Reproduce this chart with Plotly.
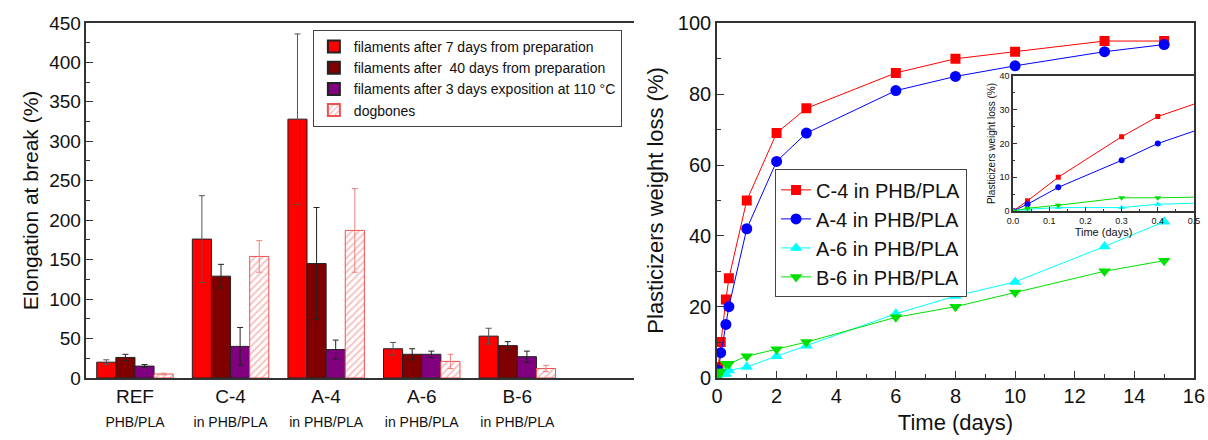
import plotly.graph_objects as go

# ---------------- Left panel data ----------------
groups_main = ["REF", "C-4", "A-4", "A-6", "B-6"]
groups_sub = ["PHB/PLA", "in PHB/PLA", "in PHB/PLA", "in PHB/PLA", "in PHB/PLA"]
group_pos = [1, 2, 3, 4, 5]

fil7 = [20, 176, 328, 37, 53]
fil7_err = [3, 55, 108, 8, 10]
fil40 = [26, 129, 145, 30, 41]
fil40_err = [4, 15, 71, 7, 5]
fil110 = [15, 40, 36, 30, 27]
fil110_err = [2, 24, 12, 4, 7]
dogbones = [5, 154, 187, 21, 12]
dogbones_err = [1, 20, 53, 9, 4]

bar_names = ["filaments after 7 days from preparation",
             "filaments after  40 days from preparation",
             "filaments after 3 days exposition at 110 °C",
             "dogbones"]

# ---------------- Right panel data ----------------
time_days = [0, 0.04, 0.125, 0.3, 0.4, 1, 2, 3, 6, 8, 10, 13, 15]
c4 = [0, 3, 10, 22, 28, 50, 69, 76, 86, 90, 92, 95, 95]
a4 = [0, 2, 7, 15, 20, 42, 61, 69, 81, 85, 88, 92, 94]
a6 = [0, 0.5, 1, 1, 2, 3, 6, 9, 18, 23, 27, 37, 44]
b6 = [0, 0.8, 1.7, 3.9, 3.9, 6, 8, 10, 17, 20, 24, 30, 33]
line_names = ["C-4 in PHB/PLA", "A-4 in PHB/PLA", "A-6 in PHB/PLA", "B-6 in PHB/PLA"]

FONT = "Liberation Sans, Arial, sans-serif"
AX = "#333333"

fig = go.Figure()

# ---- bars ----
bar_specs = [
    (fil7, fil7_err, dict(color="#FF0000", line=dict(color="#222", width=1)), "#555555"),
    (fil40, fil40_err, dict(color="#800000", line=dict(color="#222", width=1)), "#222222"),
    (fil110, fil110_err, dict(color="#800080", line=dict(color="#222", width=1)), "#222222"),
    (dogbones, dogbones_err,
     dict(color="white", line=dict(color="#F05050", width=1),
          pattern=dict(shape="/", fgcolor="#F08080", bgcolor="white", size=5, solidity=0.35)),
     "#F08080"),
]
for (vals, errs, mk, ecol), name in zip(bar_specs, bar_names):
    fig.add_trace(go.Bar(
        x=group_pos, y=vals, name=name, marker=mk,
        error_y=dict(type="data", array=errs, color=ecol, thickness=1, width=3),
        xaxis="x", yaxis="y", legend="legend",
    ))

# ---- lines (main + inset) ----
line_specs = [
    (c4, "#FF0000", "square", 10, 5),
    (a4, "#0000FF", "circle", 11, 6),
    (a6, "#00FFFF", "triangle-up", 11, 6),
    (b6, "#00E000", "triangle-down", 11, 6),
]
for (vals, col, sym, sz, szi), name in zip(line_specs, line_names):
    fig.add_trace(go.Scatter(
        x=time_days, y=vals, name=name, mode="lines+markers",
        line=dict(color=col, width=1), marker=dict(symbol=sym, size=sz, color=col),
        xaxis="x2", yaxis="y2", legend="legend2",
    ))
for (vals, col, sym, sz, szi), name in zip(line_specs, line_names):
    fig.add_trace(go.Scatter(
        x=time_days, y=vals, name=name, mode="lines+markers", showlegend=False,
        line=dict(color=col, width=1), marker=dict(symbol=sym, size=szi, color=col),
        xaxis="x3", yaxis="y3",
    ))

ticktext = [f"{m}<br><span style='font-size:14px'>{s}</span>" for m, s in zip(groups_main, groups_sub)]

common = dict(showline=True, linecolor=AX, linewidth=1.5, showgrid=False, zeroline=False,
              ticks="inside", tickcolor=AX, automargin=False)

fig.update_layout(
    width=1208, height=440,
    margin=dict(l=0, r=0, t=0, b=0, autoexpand=False),
    paper_bgcolor="white", plot_bgcolor="white",
    font=dict(family=FONT, color="#111"),
    barmode="group", bargap=0.2, bargroupgap=0,
    xaxis=dict(domain=[0.0716, 0.5248], range=[0.493, 6.22], tickvals=group_pos,
               ticktext=ticktext, ticks="", showline=True, linecolor=AX, linewidth=1.5,
               mirror=True, showgrid=False, zeroline=False, automargin=False,
               tickfont=dict(size=19, family=FONT), anchor="y"),
    yaxis=dict(domain=[0.141, 0.948], range=[0, 450], dtick=50, ticklen=7,
               minor=dict(dtick=25, ticks="inside", ticklen=4, tickcolor=AX),
               tickfont=dict(size=19, family=FONT),
               title=dict(text="Elongation at break (%)", font=dict(size=21, family=FONT), standoff=5),
               anchor="x", **common),
    xaxis2=dict(domain=[0.5935, 0.9884], range=[0, 16], dtick=2, ticklen=7, mirror=True,
                minor=dict(dtick=1, ticks="inside", ticklen=4, tickcolor=AX),
                tickfont=dict(size=20, family=FONT),
                title=dict(text="Time (days)", font=dict(size=22, family=FONT), standoff=8),
                anchor="y2", **common),
    yaxis2=dict(domain=[0.142, 0.947], range=[0, 100], dtick=20, ticklen=7, mirror=True,
                minor=dict(dtick=10, ticks="inside", ticklen=4, tickcolor=AX),
                tickfont=dict(size=20, family=FONT),
                title=dict(text="Plasticizers weight loss (%)", font=dict(size=22, family=FONT), standoff=8),
                anchor="x2", **common),
    xaxis3=dict(domain=[0.8386, 0.9884], range=[0, 0.5], dtick=0.1, tickformat=".1f", ticklen=4,
                mirror=True, minor=dict(dtick=0.05, ticks="inside", ticklen=2, tickcolor=AX),
                tickfont=dict(size=9, family=FONT),
                title=dict(text="Time (days)", font=dict(size=11, family=FONT), standoff=1),
                anchor="y3", **common),
    yaxis3=dict(domain=[0.5205, 0.8273], range=[0, 40], dtick=10, ticklen=4, mirror=True,
                minor=dict(dtick=5, ticks="inside", ticklen=2, tickcolor=AX),
                tickfont=dict(size=9, family=FONT),
                title=dict(text="Plasticizers weight loss (%)", font=dict(size=10, family=FONT), standoff=2),
                anchor="x3", **common),
    legend=dict(x=0.259, y=0.932, xanchor="left", yanchor="top",
                bgcolor="white", bordercolor="#444", borderwidth=1,
                font=dict(size=14, family=FONT), tracegroupgap=0, itemsizing="constant"),
    legend2=dict(x=0.6416, y=0.615, xanchor="left", yanchor="top",
                 bgcolor="white", bordercolor="#444", borderwidth=1,
                 font=dict(size=20, family=FONT), tracegroupgap=0),
    showlegend=True,
)

fig.write_html("out.html")
